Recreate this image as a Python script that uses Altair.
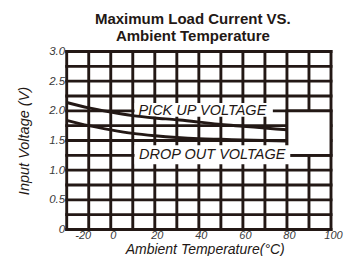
import json
import altair as alt
import pandas as pd

# ---- data ----
temps = [-20, -10, 0, 10, 20, 30, 40, 50, 60, 70, 80]
pick_up = [2.14, 2.05, 1.98, 1.92, 1.88, 1.85, 1.81, 1.77, 1.74, 1.71, 1.68]
drop_out = [1.84, 1.75, 1.68, 1.62, 1.58, 1.55, 1.53, 1.52, 1.51, 1.50, 1.49]

x_grid = [-20, -10, 0, 10, 20, 30, 40, 50, 60, 70, 80, 90, 100]
y_grid = [0, 0.25, 0.5, 0.75, 1.0, 1.25, 1.5, 1.75, 2.0, 2.25, 2.5, 2.75, 3.0]
x_ticks = [-20, 0, 20, 40, 60, 80, 100]
x_tick_labels = ["-20", "0", "20", "40", "60", "80", "100"]
y_ticks = [0, 0.5, 1.0, 1.5, 2.0, 2.5, 3.0]
y_tick_labels = ["0", "0.5", "1.0", "1.5", "2.0", "2.5", "3.0"]

ann_text = ["PICK UP VOLTAGE", "DROP OUT VOLTAGE"]
ann_x = [41.6, 46.1]
ann_y = [2.0, 1.25]

# ---- styles ----
INK = "#231815"
LBL = "#3a3a3a"
FONT = "Liberation Sans"
LW = 2.9

curves = pd.DataFrame({
    "t": temps * 2,
    "v": pick_up + drop_out,
    "s": ["pick"] * len(temps) + ["drop"] * len(temps),
})
vgrid = pd.DataFrame({"x": x_grid})
hgrid = pd.DataFrame({"y": y_grid})
ann = pd.DataFrame({"label": ann_text, "x": ann_x, "y": ann_y})
cutout = pd.DataFrame({"x": [80], "x2": [100], "y": [1.25], "y2": [2.0]})
boxes = pd.DataFrame({"x": [10.8, 10.8], "x2": [73.6, 81.5],
                      "y": [1.9, 1.1], "y2": [2.13, 1.42]})

xscale = alt.Scale(domain=[-20, 100], nice=False, zero=False)
yscale = alt.Scale(domain=[0, 3], nice=False, zero=False)

x_expr = f"{json.dumps(x_tick_labels)}[indexof({json.dumps(x_ticks)}, datum.value)]"
y_expr = f"{json.dumps(y_tick_labels)}[indexof({json.dumps(y_ticks)}, datum.value)]"

xaxis = alt.Axis(
    values=x_ticks, labelExpr=x_expr, grid=False, domain=False, ticks=False,
    tickSize=0, labelPadding=9.3, labelBaseline="alphabetic", labelFont=FONT, labelFontSize=11,
    labelFontStyle="italic", labelColor=LBL, labelFlush=False, labelOverlap=False,
    labelOffset={"condition": {"test": "datum.value == -20", "value": 16}, "value": 2},
    titleFont=FONT, titleFontSize=14, titleFontStyle="italic", titleFontWeight="normal",
    titleColor=INK, titleX=138, titleY=23.5, titleAlign="center", titleBaseline="alphabetic",
)
yaxis = alt.Axis(
    values=y_ticks, labelExpr=y_expr, grid=False, domain=False, ticks=False,
    tickSize=0, labelPadding=2, labelFont=FONT, labelFontSize=11.5,
    labelFontStyle="italic", labelColor=LBL, labelFlush=False, labelOverlap=False,
    titleFont=FONT, titleFontSize=14.5, titleFontStyle="italic", titleFontWeight="normal",
    titleColor=INK, titleX=-42, titleY=89, titleAngle=270, titleAlign="center",
    titleBaseline="middle",
)
XT = "Ambient Temperature(°C)"
YT = "Input Voltage (V)"


def X(f):
    return alt.X(f, type="quantitative", scale=xscale, axis=xaxis, title=XT)


def Y(f):
    return alt.Y(f, type="quantitative", scale=yscale, axis=yaxis, title=YT)


v_layer = alt.Chart(vgrid).mark_rule(color=INK, strokeWidth=LW, strokeCap="square").encode(x=X("x"))
h_layer = alt.Chart(hgrid).mark_rule(color=INK, strokeWidth=LW, strokeCap="square").encode(y=Y("y"))
cut_layer = alt.Chart(cutout).mark_rect(fill="white", stroke=INK, strokeWidth=LW).encode(
    x=X("x"), x2="x2", y=Y("y"), y2="y2")
box_layer = alt.Chart(boxes).mark_rect(fill="white", strokeWidth=0).encode(
    x=X("x"), x2="x2", y=Y("y"), y2="y2")
line_layer = alt.Chart(curves).mark_line(color=INK, strokeWidth=LW, interpolate="monotone").encode(
    x=X("t"), y=Y("v"), detail="s:N")
text_layer = alt.Chart(ann).mark_text(
    font=FONT, fontSize=14.5, fontStyle="italic", color=INK, align="center", baseline="middle"
).encode(x=X("x"), y=Y("y"), text="label:N")

chart = alt.layer(v_layer, h_layer, cut_layer, box_layer, line_layer, text_layer).properties(
    width=264.3, height=178,
    padding={"left": 58.7, "top": 43.5, "right": 17, "bottom": 26},
    autosize=alt.AutoSizeParams(type="none"),
    title=alt.TitleParams(
        text=["Maximum Load Current VS.", "Ambient  Temperature"],
        font=FONT, fontSize=15, fontWeight="bold", color=INK, anchor="middle",
        lineHeight=17, offset=2, dx=-6, frame="group",
    ),
).configure_view(stroke=None).configure(background="white")

chart.save("out.html", embed_options={"renderer": "svg", "actions": False})
